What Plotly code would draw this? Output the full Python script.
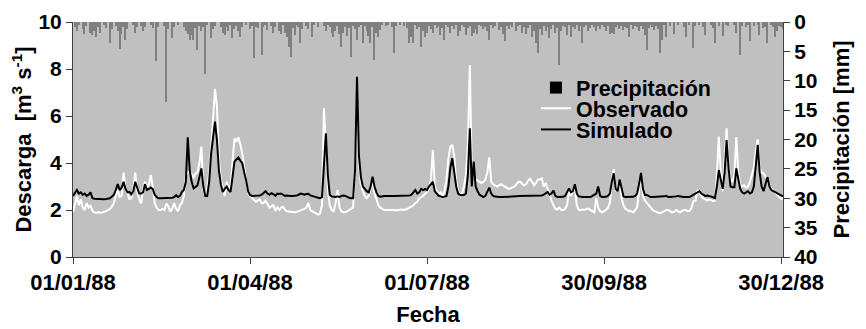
import pandas as pd
import plotly.graph_objects as go

# ---- data (daily, 1988) ----
start_date = "1988-01-01"
n_days = 366

precip_mm = [
    0, 0.8, 1.5, 0.5, 0, 1.2, 2.0, 0.6, 0, 1.8,
    2.2, 1.5, 2.5, 0.8, 1.9, 0, 0.5, 1.0, 0, 3.6,
    1.2, 0, 0.6, 1.5, 4.6, 2.0, 0.8, 3.0, 1.2, 0,
    0, 0.5, 1.8, 0.8, 0, 0.6, 1.5, 0.9, 0, 0,
    0.5, 1.0, 0, 6.7, 0.8, 0, 0, 0.6, 13.7, 1.2,
    0, 2.7, 0.8, 0, 0.5, 0, 0, 0.9, 1.5, 2.0,
    3.0, 2.2, 3.1, 1.0, 4.8, 0.6, 1.5, 0.8, 8.9, 0.5,
    0, 2.7, 1.2, 0.6, 0, 0, 0.8, 1.8, 2.2, 0.9,
    1.5, 0.5, 2.8, 1.2, 0.6, 1.6, 2.6, 0.8, 0, 0.5,
    0, 1.2, 0.6, 6.1, 0.8, 1.0, 0, 5.6, 0.9, 0.5,
    1.4, 0, 0.6, 1.8, 0.8, 0, 1.5, 2.0, 0.5, 1.8,
    2.5, 4.2, 5.9, 1.0, 2.2, 0.5, 0.8, 3.6, 1.2, 0,
    0.6, 1.2, 0, 2.6, 0.5, 0, 0.8, 0, 0, 0.6,
    1.5, 0.5, 0.8, 1.9, 2.5, 1.5, 0.6, 2.0, 4.2, 1.8,
    0.9, 2.4, 1.0, 5.9, 0.6, 1.2, 3.0, 0.8, 0.5, 3.6,
    0.6, 1.6, 2.4, 3.6, 0.8, 6.4, 1.8, 2.5, 1.4, 0.5,
    0, 0.6, 0.5, 0, 0.9, 5.3, 0.6, 0, 0.5, 0,
    0.6, 0, 1.0, 3.6, 2.6, 3.6, 0.5, 1.2, 0.8, 4.2,
    1.5, 2.5, 1.8, 0.6, 1.2, 1.8, 0.5, 1.0, 0.6, 2.2,
    1.0, 3.0, 0.5, 0.8, 1.8, 0.6, 1.2, 0.5, 2.4, 1.6,
    0.5, 0.8, 2.2, 1.0, 0.6, 2.4, 1.8, 1.2, 2.0, 0.5,
    0.6, 1.2, 0.8, 1.5, 3.0, 0.5, 1.0, 0.6, 0, 1.4,
    0.8, 2.0, 3.3, 0.6, 1.2, 0.5, 0.9, 0, 1.5, 0.6,
    0.5, 1.8, 0.8, 2.0, 1.0, 0.5, 2.6, 1.5, 3.5, 5.3,
    1.2, 2.2, 0.6, 1.5, 0.8, 2.8, 1.2, 0.5, 1.8, 1.0,
    7.3, 1.5, 0.6, 0.9, 2.2, 0.5, 2.5, 0.8, 1.2, 0.5,
    1.5, 0.6, 3.6, 0.8, 0.5, 1.6, 1.0, 0.5, 0.8, 1.6,
    0.6, 1.2, 0.5, 0.9, 1.5, 0.6, 2.0, 1.8, 2.0, 0.8,
    0.5, 1.2, 0.6, 1.4, 0.8, 1.0, 2.6, 0.5, 1.2, 0.6,
    0.8, 1.5, 0.6, 1.2, 2.2, 4.8, 1.0, 0.5, 0.8, 1.4,
    0.6, 1.2, 5.3, 3.0, 0.5, 2.5, 0, 0.6, 0, 2.0,
    0, 0.5, 0, 0, 0.8, 2.6, 0, 0.5, 0, 4.4,
    0.6, 0, 0.5, 0, 0.8, 2.2, 0, 0, 0.5, 1.0,
    3.6, 0, 0.6, 0, 2.4, 0, 0.5, 0.6, 0, 0,
    0.5, 1.8, 0, 5.6, 0.6, 0, 0.8, 0.5, 3.3, 0,
    0.6, 0, 0.5, 2.2, 0, 1.0, 0.8, 3.6, 0, 0.5,
    0.8, 2.6, 1.5, 0.6, 0.8, 1.2,
]

observado = [
    1.9, 2.3, 2.6, 2.2, 2.45, 2.1, 2.0, 2.3, 2.1, 2.2,
    1.95, 1.9, 1.88, 1.9, 1.88, 1.9, 1.92, 1.95, 2.0, 2.05,
    2.14, 2.3, 2.6, 2.85, 2.55, 2.6, 3.59, 2.9, 2.7, 2.47,
    2.5, 2.9, 3.59, 2.8, 2.47, 2.28, 2.9, 3.2, 2.95, 3.1,
    3.49, 3.0, 2.3, 2.1, 2.0, 2.0, 2.05, 2.0, 2.28, 2.15,
    1.93, 2.05, 2.3, 2.05, 1.95, 2.2, 2.3, 2.6, 3.46, 3.6,
    3.65, 3.5, 3.4, 3.55, 3.6, 4.0, 4.7, 2.9, 2.57, 2.9,
    3.59, 4.6, 6.0, 7.15, 6.4, 4.2, 3.3, 2.9, 2.6, 3.2,
    2.9, 3.0, 4.2, 5.05, 4.9, 5.1, 4.8, 4.4, 3.8, 3.2,
    2.75, 2.6, 2.5, 2.45, 2.35, 2.4, 2.45, 2.3, 2.3, 2.4,
    2.25, 2.1, 2.15, 2.2, 2.0, 2.1, 2.0, 2.1, 2.14, 2.0,
    1.95, 1.93, 1.92, 1.9, 1.9, 1.92, 1.95, 1.98, 2.0, 2.05,
    2.1, 2.3, 2.0, 1.95, 1.9, 1.85, 1.8, 1.85, 2.2, 6.33,
    4.5, 2.9, 2.2, 2.0, 1.95, 2.3, 2.85, 2.1, 1.95, 1.9,
    1.9, 1.95, 2.0, 2.05, 2.1, 3.8, 6.0, 3.9, 3.1, 2.8,
    2.6, 2.5, 2.6, 2.9, 3.2, 2.7, 2.4, 2.2, 2.1, 2.05,
    2.0, 2.0, 2.0, 2.02, 2.0, 2.0, 1.98, 2.0, 2.0, 2.02,
    2.0, 2.02, 2.05, 2.1, 2.15, 2.2, 2.3, 2.35, 2.5, 2.55,
    2.6, 2.7, 2.75, 2.9, 3.3, 4.55, 3.0, 2.8, 2.7, 2.75,
    2.6, 2.8, 3.3, 4.2, 4.7, 4.77, 4.3, 3.2, 2.8, 2.65,
    2.7, 3.0, 3.5, 4.8, 8.17, 3.6, 3.5, 3.3, 3.25, 3.2,
    3.15, 3.2, 3.3, 3.6, 4.24, 3.2, 3.1, 3.05, 3.0, 3.05,
    3.1, 3.05, 3.0, 2.95, 2.9, 2.92, 2.95, 3.0, 3.1, 3.2,
    3.2, 3.1, 3.05, 3.1, 3.25, 3.33, 3.2, 3.05, 3.15, 3.3,
    3.3, 3.35, 3.0, 3.15, 2.9, 2.6, 2.4, 2.2, 2.05, 2.02,
    2.1, 2.0, 2.0, 2.05, 2.2, 2.85, 2.6, 2.8, 2.95, 2.2,
    2.0, 2.0, 2.02, 2.0, 2.05, 2.05, 2.0, 1.95, 1.9, 2.5,
    2.1, 1.95, 1.9, 1.95, 2.0, 2.1, 2.3, 3.3, 3.73, 2.8,
    3.0, 3.3, 2.5, 2.2, 2.05, 2.0, 1.95, 1.95, 1.9, 2.0,
    2.1, 2.8, 3.5, 2.6, 2.4, 2.3, 2.2, 2.1, 2.0, 1.95,
    1.9, 1.88, 1.86, 1.9, 1.95, 2.0, 2.0, 1.95, 1.9, 1.92,
    2.0, 1.95, 1.9, 1.95, 2.0, 2.0, 1.95, 1.96, 2.1, 2.38,
    2.4, 2.85, 2.7, 2.6, 2.5, 2.45, 2.4, 2.45, 2.4, 2.38,
    2.4, 3.5, 5.12, 3.6, 2.8, 4.2, 5.48, 4.0, 3.3, 3.2,
    3.5, 5.1, 3.6, 3.1, 3.0, 3.05, 2.95, 3.0, 3.2, 3.5,
    3.8, 4.5, 5.0, 3.8, 3.6, 3.55, 3.4, 3.3, 3.0, 2.9,
    2.8, 2.7, 2.6, 2.55, 2.5, 2.45,
]

simulado = [
    2.6, 2.75, 2.85, 2.7, 2.75, 2.65, 2.7, 2.6, 2.65, 2.75,
    2.5, 2.48, 2.47, 2.47, 2.46, 2.46, 2.46, 2.47, 2.48, 2.5,
    2.57, 2.65, 2.85, 3.1, 2.85, 2.95, 3.2, 2.9, 2.75, 2.77,
    2.67, 2.8, 3.2, 2.9, 2.7, 2.7, 2.75, 3.1, 2.85, 2.9,
    2.95, 2.9, 2.65, 2.55, 2.5, 2.5, 2.5, 2.5, 2.52, 2.5,
    2.5, 2.52, 2.55, 2.63, 2.55, 2.6, 2.77, 2.85, 3.2, 5.09,
    3.7, 3.2, 2.92, 3.0, 3.05, 3.4, 3.77, 3.0, 2.6, 2.6,
    3.2, 4.4, 5.2, 5.76, 4.98, 3.7, 3.1, 2.77, 2.9, 3.0,
    2.85, 2.77, 3.4, 4.06, 4.15, 4.24, 4.1, 4.0, 3.6, 3.27,
    2.8, 2.64, 2.6, 2.6, 2.6, 2.6, 2.62, 2.65, 2.72, 2.8,
    2.7, 2.65, 2.72, 2.68, 2.6, 2.7, 2.68, 2.7, 2.65, 2.6,
    2.62, 2.6, 2.6, 2.6, 2.6, 2.62, 2.65, 2.7, 2.68, 2.65,
    2.68, 2.69, 2.62, 2.6, 2.6, 2.55, 2.52, 2.5, 2.55, 4.2,
    5.26, 3.5, 2.64, 2.58, 2.55, 2.55, 2.58, 2.55, 2.6, 2.62,
    2.6, 2.55, 2.52, 2.5, 2.5, 3.7, 7.67, 4.3, 3.4, 3.0,
    2.9, 2.8, 2.75, 3.0, 3.42, 3.0, 2.75, 2.6, 2.57, 2.6,
    2.6, 2.6, 2.61, 2.6, 2.6, 2.6, 2.6, 2.6, 2.6, 2.6,
    2.6, 2.6, 2.6, 2.62, 2.65, 2.75, 2.85, 2.7, 2.75, 2.9,
    2.85, 2.9, 2.85, 3.0, 3.1, 3.2, 2.8, 2.7, 2.6, 2.58,
    2.55, 2.57, 2.6, 3.0, 3.8, 4.2, 3.5, 3.0, 2.7, 2.64,
    2.64, 2.64, 2.7, 3.5, 5.48, 3.0, 4.06, 3.0, 2.8, 2.65,
    2.6, 2.55, 2.6, 2.8, 2.95, 2.7, 2.6, 2.57, 2.55, 2.55,
    2.55, 2.55, 2.56, 2.55, 2.55, 2.55, 2.56, 2.57, 2.58, 2.6,
    2.6, 2.6, 2.6, 2.6, 2.62, 2.6, 2.6, 2.6, 2.62, 2.6,
    2.6, 2.62, 2.65, 2.7, 2.77, 2.65, 2.7, 2.83, 2.6, 2.55,
    2.55, 2.55, 2.56, 2.6, 2.75, 2.92, 2.75, 2.8, 3.1, 2.7,
    2.58, 2.55, 2.55, 2.55, 2.55, 2.55, 2.55, 2.6, 2.65, 2.7,
    3.0, 2.6, 2.55, 2.55, 2.56, 2.6, 2.7, 3.2, 3.56, 2.9,
    2.8, 3.3, 2.9, 2.58, 2.55, 2.55, 2.55, 2.55, 2.56, 2.6,
    2.7, 3.1, 3.58, 2.9, 2.64, 2.64, 2.6, 2.55, 2.55, 2.55,
    2.55, 2.55, 2.55, 2.56, 2.58, 2.6, 2.55, 2.55, 2.55, 2.56,
    2.58, 2.6, 2.58, 2.55, 2.55, 2.55, 2.55, 2.55, 2.6, 2.65,
    2.7, 2.77, 2.8, 2.7, 2.65, 2.6, 2.62, 2.6, 2.58, 2.55,
    2.5, 3.0, 3.7, 3.3, 2.9, 3.6, 4.98, 3.8, 3.0, 2.97,
    2.97, 3.77, 3.3, 2.9, 2.75, 2.7, 2.75, 2.8, 2.7, 2.75,
    3.0, 4.0, 4.77, 3.6, 3.0, 2.8, 3.1, 3.4, 3.0, 2.85,
    2.8, 2.75, 2.7, 2.65, 2.6, 2.58,
]

tick_dates = ["1988-01-01", "1988-04-01", "1988-07-01", "1988-09-30", "1988-12-30"]
tick_labels = ["01/01/88", "01/04/88", "01/07/88", "30/09/88", "30/12/88"]

dates = pd.date_range(start_date, periods=n_days, freq="D")

FONT = "Liberation Sans, Arial, sans-serif"
AXIS_C = "#404040"
LEG_FONT = dict(family=FONT, size=21.5, color="black", weight="bold")

fig = go.Figure()

# precipitation bars hanging from the top (right axis, reversed)
fig.add_trace(go.Bar(
    x=dates, y=precip_mm, name="Precipitación", yaxis="y",
    marker=dict(color="#808080", line=dict(width=0)),
    width=0.7 * 86400000, showlegend=False,
))
# legend entry for precipitation (black box as in the reference)
fig.add_trace(go.Bar(
    x=[None], y=[None], name="Precipitación", yaxis="y",
    marker=dict(color="black", line=dict(width=0)), showlegend=True,
    legend="legend",
))
fig.add_trace(go.Scatter(
    x=dates, y=observado, name="Observado", yaxis="y2", mode="lines",
    line=dict(color="white", width=2), legend="legend2",
))
fig.add_trace(go.Scatter(
    x=dates, y=simulado, name="Simulado", yaxis="y2", mode="lines",
    line=dict(color="black", width=2), legend="legend3",
))

leg_common = dict(x=0.652, xanchor="left", yanchor="top",
                  bgcolor="rgba(0,0,0,0)", borderwidth=0, font=LEG_FONT)

fig.update_layout(
    width=866, height=329,
    margin=dict(l=65, r=91, t=14, b=80),
    paper_bgcolor="white",
    plot_bgcolor="#C0C0C0",
    font=dict(family=FONT, size=21, color="black", weight="bold"),
    showlegend=True,
    bargap=0,
    legend=dict(y=0.808, **leg_common),
    legend2=dict(y=0.720, **leg_common),
    legend3=dict(y=0.630, **leg_common),
    xaxis=dict(
        type="date", range=["1988-01-01", "1988-12-31"],
        tickvals=tick_dates, ticktext=tick_labels, automargin=False,
        showline=True, linecolor=AXIS_C, linewidth=1,
        ticks="outside", ticklen=6, tickcolor=AXIS_C,
        showgrid=False, zeroline=False,
        tickfont=dict(family=FONT, size=22, weight="bold"),
        title=dict(text="Fecha", font=dict(family=FONT, size=22, weight="bold"), standoff=12),
    ),
    yaxis=dict(
        side="right", range=[40, 0], tickvals=[0, 5, 10, 15, 20, 25, 30, 35, 40],
        showline=True, linecolor=AXIS_C, linewidth=1, automargin=False,
        ticks="outside", ticklen=6, tickcolor=AXIS_C,
        showgrid=False, zeroline=False,
        tickfont=dict(family=FONT, size=21, weight="bold"),
        title=dict(text="Precipitación [mm]", font=dict(family=FONT, size=22, weight="bold"), standoff=16),
    ),
    yaxis2=dict(
        overlaying="y", side="left", range=[0, 10], tickvals=[0, 2, 4, 6, 8, 10],
        showline=True, linecolor=AXIS_C, linewidth=1, automargin=False,
        ticks="outside", ticklen=6, tickcolor=AXIS_C,
        showgrid=False, zeroline=False,
        tickfont=dict(family=FONT, size=21, weight="bold"),
        title=dict(text="Descarga  [m<sup>3</sup> s<sup>-1</sup>]", font=dict(family=FONT, size=22, weight="bold"), standoff=2),
    ),
)

fig.write_html("out.html")
